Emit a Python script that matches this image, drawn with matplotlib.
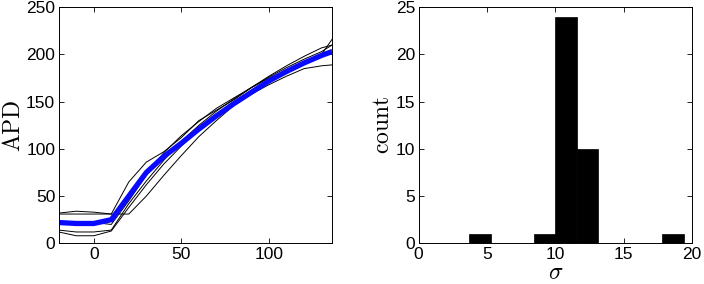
import numpy as np
import matplotlib.pyplot as plt

plt.rcParams['font.family'] = ['Liberation Sans', 'DejaVu Sans']
plt.rcParams['mathtext.fontset'] = 'cm'

# stimulus times and APD traces
t = [-20, -10, 0, 10, 20, 30, 40, 50, 60, 70, 80, 90, 100, 110, 120, 130, 136]
apd_mean = [22, 21, 21, 25, 50, 75, 92, 106, 121, 135, 148, 160, 172, 182, 191, 199, 203]
apd_runs = [
    [32, 34, 33, 31, 65, 86, 97, 112, 130, 141, 152, 165, 177, 188, 198, 207, 210],
    [31, 31, 31, 31, 31, 50, 72, 93, 113, 130, 146, 158, 168, 177, 185, 188, 189],
    [14, 12, 12, 14, 42, 66, 88, 108, 125, 140, 153, 165, 176, 186, 195, 203, 210],
    [12, 8, 8, 13, 38, 62, 84, 103, 120, 136, 150, 162, 172, 180, 190, 200, 216],
    [22, 21, 22, 20, 45, 72, 96, 114, 129, 143, 154, 165, 175, 183, 192, 201, 205],
]

# histogram of sigma
bin_edges = [3.7, 5.27, 6.84, 8.41, 9.98, 11.55, 13.12, 14.69, 16.26, 17.83, 19.4]
counts = [1, 0, 0, 1, 24, 10, 0, 0, 0, 1]

fig = plt.figure(figsize=(7.04, 2.84), dpi=100)
ax1 = fig.add_axes([0.0834, 0.1433, 0.3882, 0.831])
ax2 = fig.add_axes([0.5947, 0.1433, 0.3883, 0.831])

for run in apd_runs:
    ax1.plot(t, run, color='black', lw=0.7)
ax1.plot(t, apd_mean, color='#0a0aff', lw=3.8, solid_capstyle='butt')
ax1.set_xlim(-20, 136)
ax1.set_ylim(0, 250)
ax1.set_xticks([0, 50, 100])
ax1.set_yticks([0, 50, 100, 150, 200, 250])
ax1.set_ylabel(r'$\mathrm{APD}$', fontsize=17, labelpad=1)

edges = np.array(bin_edges)
ax2.bar(edges[:-1], counts, width=np.diff(edges), align='edge',
        color='black', edgecolor='black', lw=0.5)
ax2.set_xlim(0, 20)
ax2.set_ylim(0, 25)
ax2.set_xticks([0, 5, 10, 15, 20])
ax2.set_yticks([0, 5, 10, 15, 20, 25])
ax2.set_ylabel(r'$\mathrm{count}$', fontsize=17, labelpad=1)
ax2.set_xlabel(r'$\sigma$', fontsize=17, labelpad=0)

for ax in (ax1, ax2):
    ax.tick_params(direction='in', top=True, right=True, length=3.5,
                   width=0.6, labelsize=12.5, pad=2.5)
    for s in ax.spines.values():
        s.set_linewidth(0.7)

fig.savefig('out.png', dpi=100)
